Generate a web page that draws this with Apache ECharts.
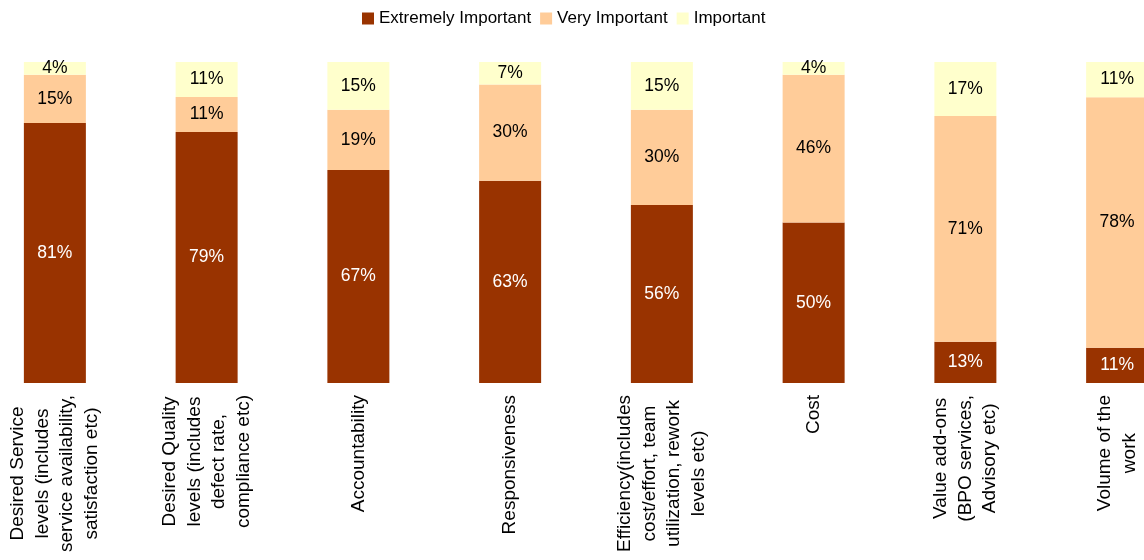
<!DOCTYPE html>
<html>
<head>
<meta charset="utf-8">
<title>Importance of outsourcing criteria</title>
<script src="https://cdn.jsdelivr.net/npm/echarts@6/dist/echarts.min.js"></script>
<style>
  html, body { margin: 0; padding: 0; background: #fff; }
  #chart { width: 1144px; height: 560px; }
</style>
</head>
<body>
<div id="chart"></div>
<script>
// Criteria (line breaks as they appear under each bar)
const categories = [
  'Desired Service\nlevels (includes\nservice availability,\nsatisfaction etc)',
  'Desired Quality\nlevels (includes\ndefect rate,\ncompliance etc)',
  'Accountability',
  'Responsiveness',
  'Efficiency(includes\ncost/effort, team\nutilization, rework\nlevels etc)',
  'Cost',
  'Value add-ons\n(BPO services,\nAdvisory etc)',
  'Volume of the\nwork'
];

// Share of respondents (%) per rating
const extremelyImportant = [81, 79, 67, 63, 56, 50, 13, 11];
const veryImportant      = [15, 11, 19, 30, 30, 46, 71, 78];
const important          = [4, 11, 15, 7, 15, 4, 17, 11];

const seriesNames = ['Extremely Important', 'Very Important', 'Important'];
const seriesColors = ['#993300', '#FFCC99', '#FFFFCC'];
const labelColors = ['#ffffff', '#000000', '#000000'];

const FONT = '"Liberation Sans", Arial, Helvetica, sans-serif';

// 100% stacked: each column is normalised to its own total
const raw = [extremelyImportant, veryImportant, important];
const totals = categories.map((_, i) => raw.reduce((s, arr) => s + arr[i], 0));

const series = raw.map((values, k) => ({
  name: seriesNames[k],
  type: 'bar',
  stack: 'total',
  barWidth: 62,
  itemStyle: { color: seriesColors[k] },
  data: values.map((v, i) => ({ value: v / totals[i] * 100, raw: v })),
  label: {
    show: true,
    position: 'inside',
    color: labelColors[k],
    fontFamily: FONT,
    fontSize: 17.5,
    formatter: p => p.data.raw + '%'
  }
}));

const chart = echarts.init(document.getElementById('chart'), null, { renderer: 'canvas' });
chart.setOption({
  animation: false,
  backgroundColor: '#ffffff',
  legend: {
    data: seriesNames,
    left: 362,
    top: 10,
    padding: 0,
    itemWidth: 12,
    itemHeight: 12,
    itemGap: 9,
    icon: 'rect',
    textStyle: { fontFamily: FONT, fontSize: 17, color: '#000' }
  },
  grid: {
    left: -21,
    top: 62,
    width: 1214,
    bottom: 177,
    outerBoundsMode: 'none',
    containLabel: false
  },
  xAxis: {
    type: 'category',
    data: categories,
    axisLine: { show: false },
    axisTick: { show: false },
    axisLabel: {
      interval: 0,
      rotate: 90,
      margin: 12,
      formatter: v => v.split('\n').map(l => '{c|' + l + '}').join('\n'),
      rich: {
        c: { align: 'center', fontFamily: FONT, fontSize: 19, lineHeight: 24.5, color: '#000' }
      }
    }
  },
  yAxis: {
    type: 'value',
    min: 0,
    max: 100,
    show: false,
    splitLine: { show: false }
  },
  series: series
});
</script>
</body>
</html>
